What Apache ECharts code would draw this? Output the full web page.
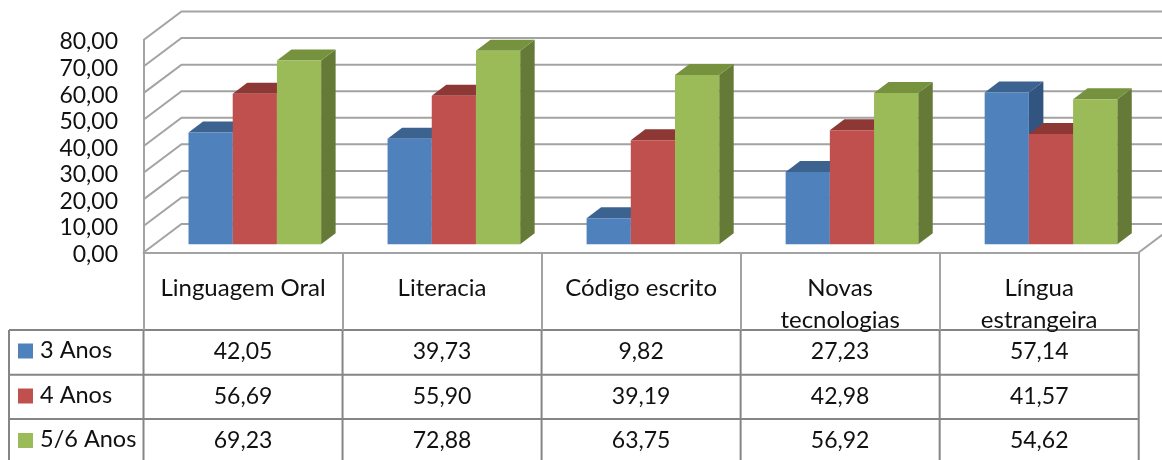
<!DOCTYPE html>
<html><head><meta charset="utf-8">
<script src="https://cdn.jsdelivr.net/npm/echarts@6/dist/echarts.min.js"></script>
<style>html,body{margin:0;padding:0;background:#fff}#c{width:1162px;height:460px}</style>
</head><body><div id="c"></div>
<script>
const categories = ["Linguagem Oral","Literacia","Código escrito","Novas\ntecnologias","Língua\nestrangeira"];
const seriesNames = ["3 Anos","4 Anos","5/6 Anos"];
const anos3 = [42.05,39.73,9.82,27.23,57.14];
const anos4 = [56.69,55.90,39.19,42.98,41.57];
const anos56 = [69.23,72.88,63.75,56.92,54.62];
const yTicks = [0,10,20,30,40,50,60,70,80];

const seriesValues = [anos3, anos4, anos56];
const FONT = 'Lato';
const FS_VAL = 23, FS_CAT = 24, FS_LEG = 23.5;
const palette = [
  {front:'#4F81BD', top:'#3C6290', side:'#315480'},
  {front:'#C0504D', top:'#8E3836', side:'#7F3230'},
  {front:'#9BBB59', top:'#76923F', side:'#667A38'}
];
const fmt = v => v.toFixed(2).replace('.', ',');
const GRID = {left:143.5, top:40, width:995.2, height:212.5};
const WALL = {dx:38, dy:-28.5};
const BAR = {w:44.2, ox:11.8, oy:-8.2, dx:14.5, dy:-11};
const LINE_LIGHT = '#A3A3A3', LINE_DARK = '#858585';
const ROWS = {top:330, y:[374.7,419], textY:[351.5,396.5,441], bottom:460, left:9};

function wallItem(params, api){
  const v = api.value(0);
  const p = api.coord([0, v]);
  const left = GRID.left;
  const right = GRID.left + GRID.width;
  const st = {stroke:LINE_LIGHT, lineWidth:2, fill:null};
  const kids = [
    {type:'polyline', shape:{points:[[left,p[1]],[left+WALL.dx,p[1]+WALL.dy],[right+WALL.dx,p[1]+WALL.dy]]}, style:st}
  ];
  if (v === 0) kids.push({type:'line', shape:{x1:right,y1:p[1],x2:right+WALL.dx,y2:p[1]+WALL.dy}, style:st});
  return {type:'group', children:kids};
}
function barItem(s){
  return function(params, api){
    const i = api.value(0), v = api.value(1);
    const top = api.coord([i, v]);
    const base = api.coord([i, 0]);
    const x0 = top[0] + BAR.ox + (s-1.5)*BAR.w;
    const x1 = x0 + BAR.w;
    const yT = top[1] + BAR.oy;
    const yB = base[1] + BAR.oy;
    const c = palette[s];
    return {type:'group', children:[
      {type:'polygon', shape:{points:[[x1,yT],[x1+BAR.dx,yT+BAR.dy],[x1+BAR.dx,yB+BAR.dy],[x1,yB]]}, style:{fill:c.side}},
      {type:'polygon', shape:{points:[[x0,yT],[x0+BAR.dx,yT+BAR.dy],[x1+BAR.dx,yT+BAR.dy],[x1,yT]]}, style:{fill:c.top}},
      {type:'rect', shape:{x:x0,y:yT,width:BAR.w,height:yB-yT}, style:{fill:c.front}}
    ]};
  };
}
const chart = echarts.init(document.getElementById('c'));
chart.setOption({
  animation:false,
  backgroundColor:'#fff',
  grid:{left:GRID.left, top:GRID.top, width:GRID.width, height:GRID.height},
  xAxis:{type:'category', data:categories.map(c=>c), boundaryGap:true,
    axisLine:{lineStyle:{color:LINE_LIGHT,width:2}},
    axisTick:{show:true,length:77.5,alignWithLabel:false,lineStyle:{color:LINE_LIGHT,width:2}},
    axisLabel:{interval:0,margin:20,color:'#111',fontFamily:FONT,fontSize:FS_CAT,lineHeight:32,verticalAlign:'top'}
  },
  yAxis:{type:'value', min:0, max:80, interval:10,
    axisLine:{show:true,lineStyle:{color:LINE_LIGHT,width:2}},
    axisTick:{show:false}, splitLine:{show:false},
    axisLabel:{margin:25.5,color:'#111',fontFamily:FONT,fontSize:FS_VAL,formatter:fmt,lineHeight:4,verticalAlign:'top'}
  },
  series:[
    {type:'custom', silent:true, clip:false, z:1, renderItem:wallItem, data:yTicks.map(v=>[v]), encode:{y:0}},
    ...seriesValues.map((vals,s)=>({
      type:'custom', name:seriesNames[s], silent:true, clip:false, z:2+s,
      renderItem:barItem(s), data:vals.map((v,i)=>[i,v]), encode:{x:0,y:1}
    }))
  ]
});
// data table below the plot
const g = [];
const lineEl = (x1,y1,x2,y2) => ({type:'line', shape:{x1,y1,x2,y2}, style:{stroke:LINE_DARK,lineWidth:2}, silent:true});
const right = GRID.left + GRID.width;
g.push(lineEl(ROWS.left,ROWS.top,right,ROWS.top));
ROWS.y.forEach(y=>g.push(lineEl(ROWS.left,y,right,y)));
g.push(lineEl(ROWS.left,ROWS.top,ROWS.left,ROWS.bottom));
for(let i=0;i<=categories.length;i++){
  const x = GRID.left + i*GRID.width/categories.length;
  g.push(lineEl(x,ROWS.top,x,ROWS.bottom));
}
seriesValues.forEach((vals,s)=>{
  const y = ROWS.textY[s];
  g.push({type:'rect', shape:{x:18,y:y-8,width:15,height:15}, style:{fill:palette[s].front}, silent:true});
  g.push({type:'text', style:{x:40,y:y-1.5,text:seriesNames[s],font:FS_LEG+'px '+FONT,fill:'#111',textAlign:'left',textVerticalAlign:'middle'}, silent:true});
  vals.forEach((v,i)=>{
    const px = chart.convertToPixel({xAxisIndex:0}, i);
    g.push({type:'text', style:{x:px,y:y,text:fmt(v),font:FS_VAL+'px '+FONT,fill:'#111',textAlign:'center',textVerticalAlign:'middle'}, silent:true});
  });
});
chart.setOption({graphic:{elements:g}});
</script></body></html>
